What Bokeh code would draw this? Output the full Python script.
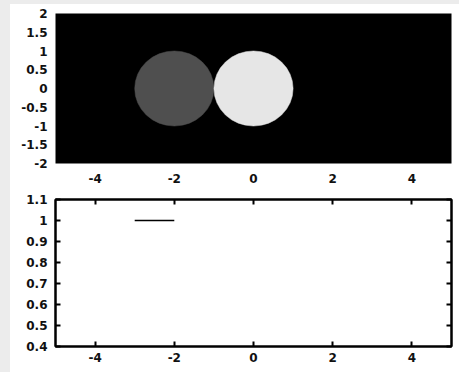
from bokeh.plotting import figure
from bokeh.layouts import column
from bokeh.models import FixedTicker, LinearAxis, ColumnDataSource
from bokeh.palettes import Greys256
from bokeh.transform import linear_cmap
from bokeh.embed import file_html
from bokeh.resources import INLINE

# Disk image: two uniform disks on a black field (intensity 0..1)
disk_x = [-2.0, 0.0]
disk_y = [0.0, 0.0]
disk_r = [1.0, 1.0]
disk_level = [0.31, 0.90]

# Profile line
seg_x = [-3.0, -2.0]
seg_y = [1.0, 1.0]

x_ticks = [-4, -2, 0, 2, 4]
x_labels = ["-4", "-2", "0", "2", "4"]
top_y_ticks = [-2, -1.5, -1, -0.5, 0, 0.5, 1, 1.5, 2]
top_y_labels = ["-2", "-1.5", "-1", "-0.5", "0", "0.5", "1", "1.5", "2"]
bot_y_ticks = [0.4, 0.5, 0.6, 0.7, 0.8, 0.9, 1.0, 1.1]
bot_y_labels = ["0.4", "0.5", "0.6", "0.7", "0.8", "0.9", "1", "1.1"]

FONT = "DejaVu Sans"
FS = "12px"

grey_ramp = list(Greys256)
if grey_ramp[0].lower() != "#000000":
    grey_ramp = grey_ramp[::-1]


def style_axis(ax, ticks, labels, tick_in, standoff, show_labels=True):
    ax.ticker = FixedTicker(ticks=ticks)
    if show_labels:
        ax.major_label_overrides = {t: l for t, l in zip(ticks, labels)}
    else:
        ax.major_label_overrides = {t: "" for t in ticks}
    ax.major_label_text_font = FONT
    ax.major_label_text_font_size = FS
    ax.major_label_text_font_style = "bold"
    ax.major_label_text_color = "#111111"
    ax.major_tick_in = tick_in
    ax.major_tick_out = 0
    ax.minor_tick_in = 0
    ax.minor_tick_out = 0
    ax.major_label_standoff = standoff


# ---- top: image panel ----
p1 = figure(width=455, height=187, x_range=(-5, 5), y_range=(-2, 2),
            output_backend="svg", toolbar_location=None,
            min_border_left=45, min_border_right=14, min_border_top=9, min_border_bottom=28,
            frame_width=396, frame_height=150)
p1.margin = (4, 0, 0, 10)
p1.background_fill_color = "#000000"
p1.border_fill_color = "#ffffff"
p1.outline_line_color = None
p1.grid.visible = False

src = ColumnDataSource(dict(x=disk_x, y=disk_y, w=[2 * r for r in disk_r],
                            h=[2 * r for r in disk_r], level=disk_level))
cmap = linear_cmap("level", grey_ramp, 0, 1)
p1.ellipse(x="x", y="y", width="w", height="h", source=src,
           fill_color=cmap, line_color=cmap, line_width=0.5)

style_axis(p1.xaxis[0], x_ticks, x_labels, 0, 10)
style_axis(p1.yaxis[0], top_y_ticks, top_y_labels, 0, 8)
p1.xaxis.axis_line_color = None
p1.yaxis.axis_line_color = None

# ---- bottom: profile panel ----
p2 = figure(width=455, height=185, x_range=(-5, 5), y_range=(0.4, 1.1),
            output_backend="svg", toolbar_location=None,
            min_border_left=45, min_border_right=14, min_border_top=8, min_border_bottom=30,
            frame_width=396, frame_height=147)
p2.margin = (0, 0, 0, 10)
p2.background_fill_color = "#ffffff"
p2.border_fill_color = "#ffffff"
p2.outline_line_color = "#000000"
p2.outline_line_width = 2
p2.grid.visible = False

p2.line(seg_x, seg_y, line_color="#000000", line_width=1.5)

style_axis(p2.xaxis[0], x_ticks, x_labels, 5, 6)
style_axis(p2.yaxis[0], bot_y_ticks, bot_y_labels, 5, 8)
p2.xaxis.axis_line_width = 2
p2.yaxis.axis_line_width = 2
p2.xaxis.major_tick_line_width = 2
p2.yaxis.major_tick_line_width = 2

top_ax = LinearAxis()
style_axis(top_ax, x_ticks, x_labels, 5, 0, show_labels=False)
top_ax.axis_line_width = 2
top_ax.major_tick_line_width = 2
top_ax.major_label_text_font_size = "0px"
p2.add_layout(top_ax, "above")

right_ax = LinearAxis()
style_axis(right_ax, bot_y_ticks, bot_y_labels, 5, 0, show_labels=False)
right_ax.axis_line_width = 2
right_ax.major_tick_line_width = 2
right_ax.major_label_text_font_size = "0px"
p2.add_layout(right_ax, "right")

layout = column(p1, p2, spacing=0)

# light grey page edge on the left and top, white elsewhere
page_css = ("<style>"
            "html { margin: 0; overflow: hidden; background-color: #ffffff; "
            "background-image: linear-gradient(#ececec, #ececec), linear-gradient(#ececec, #ececec); "
            "background-repeat: no-repeat; background-attachment: fixed; "
            "background-size: 100% 4px, 10px 100%; background-position: 0 0, 0 0; } "
            "body { margin: 0; overflow: hidden; background: transparent; }"
            "</style>")

html = file_html(layout, INLINE)
html = html.replace("</head>", page_css + "</head>", 1)

with open("out.html", "w") as f:
    f.write(html)
